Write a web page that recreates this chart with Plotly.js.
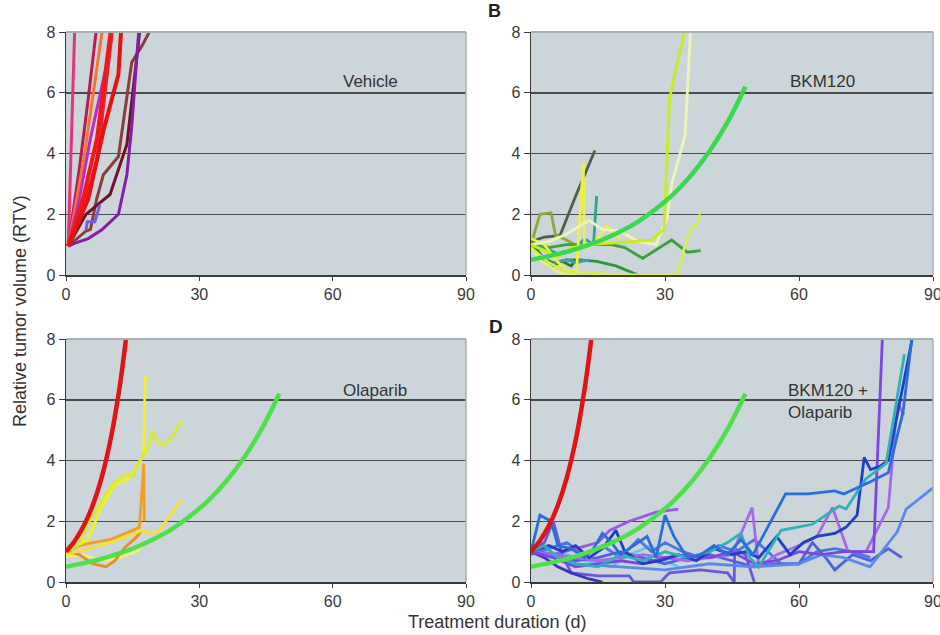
<!DOCTYPE html>
<html><head><meta charset="utf-8">
<script src="https://cdn.plot.ly/plotly-3.0.1.min.js"></script>
<style>html,body{margin:0;padding:0;background:#fff}#chart{width:940px;height:635px}</style>
</head><body><div id="chart"></div>
<script>
// ---------- DATA (day, RTV) ----------
const xTicks = [0, 30, 60, 90];
const yTicks = [0, 2, 4, 6, 8];
const panelNames = ["Vehicle", "BKM120", "Olaparib", "BKM120 +<br>Olaparib"];

// Fitted growth curves
const fitVehicleDays = [0, 2, 4, 6, 8, 10, 12, 13.5, 14.5];
const fitVehicleRTV  = [1, 1.36, 1.85, 2.52, 3.43, 4.67, 6.35, 8, 9.3];
const fitBkmDays = [0, 4, 8, 12, 16, 20, 24, 28, 32, 36, 40, 44, 48];
const fitBkmRTV  = [0.5, 0.62, 0.76, 0.94, 1.16, 1.43, 1.76, 2.18, 2.68, 3.31, 4.08, 5.03, 6.2];

// Panel A: Vehicle
const vehA1 = [[0.5,0.95],[2.0,8.3]];
const vehA2 = [[0.5,0.95],[3,3.5],[5,5.8],[7,8.3]];
const vehA3 = [[0.5,0.95],[4,3.8],[8.4,8.3]];
const vehA4 = [[0.5,0.95],[4,2.6],[7,4.5],[10.3,8.3]];
const vehA5 = [[0.5,0.95],[5,2.5],[8.5,4.8],[11.8,6.6],[12.5,8.3]];
const vehA6 = [[0.5,0.95],[3.5,2.0],[7,3.8],[10.6,8.3]];
const vehA7 = [[0.5,0.95],[3,2.5],[5.5,4.5],[8.8,6.7]];
const vehA8 = [[4.5,1.5],[4.8,1.75],[6.5,1.75],[7.6,2.3]];
const vehA9 = [[0.5,0.95],[4.5,1.45],[5.5,1.5],[6.9,2.5],[8.4,3.3],[11.8,3.9],[14.8,7.0],[17.3,7.6],[19.8,8.3]];
const vehA10 = [[0.5,0.95],[4.5,2.0],[7,2.3],[9.9,2.65],[13.7,4.3],[15.5,6.5],[16.8,8.3]];
const vehA11 = [[0.5,0.95],[2,1.05],[5,1.2],[8,1.48],[11.8,2.0],[13.7,3.3],[14.8,4.9],[15.5,6.5],[16.5,8.3]];

// Panel B: BKM120
const bkmB1 = [[0,1.1],[3,1.25],[6.5,1.3],[10,2.6],[14.3,4.1]];
const bkmB2 = [[0,1.0],[2,2.0],[4.5,2.05],[5.5,1.3],[8,1.15],[11,0.9]];
const bkmB3 = [[0,1.0],[3,0.8],[6,0.6],[9,0.9],[13,1.0],[18,1.05],[23,1.1],[27,1.15],[29.8,1.5],[31,5.8],[34.8,8.3]];
const bkmB4 = [[0,1.0],[4,1.1],[8,1.35],[13,1.8],[16,1.5],[20,1.45],[24,1.1],[28,1.0],[30.5,1.9],[31.5,3.0],[34.5,4.6],[35.8,8.3]];
const bkmB5 = [[0,0.9],[4,0.4],[8,0.1],[14,0.05],[20,0.0],[25,0.0],[32.8,0.0],[34.5,1.0],[36,1.55],[37.3,1.7],[37.8,2.0]];
const bkmB6 = [[0,1.0],[3,0.9],[6,0.7],[10,0.9],[12,1.2],[14,1.0],[14.7,2.6]];
const bkmB7 = [[0,1.1],[4,0.9],[8,1.0],[13,1.0],[18,1.0],[21,0.9],[25,0.55],[31.5,1.15],[35,0.75],[38,0.8]];
const bkmB8 = [[0,1.0],[2,0.6],[5,0.4],[8,0.5],[11,0.5],[14.7,0.45],[19,0.3],[24,0.0]];
const bkmB9 = [[0,1.2],[3,1.0],[5,0.6],[8,0.1],[10.2,0.15],[11.7,3.7],[12,0.9],[14,1.0],[17,1.6],[20,1.2]];
const bkmB10 = [[0,0.9],[2,0.5],[4,0.3],[6,0.1],[8,0.0],[10,0.0]];
const bkmB11 = [[5,0.4],[8,0.5],[10,0.4],[13,0.5]];
const bkmB12 = [[1,0.9],[3,0.5],[5,0.3],[7,0.45],[9,0.3],[10,0.5]];

// Panel C: Olaparib
const olaC1 = [[0,1.0],[3,1.3],[6,2.2],[9,2.9],[11,3.3],[13,3.5],[15,3.5],[17,4.1],[18.5,4.4],[19.5,5.0],[20.5,4.6],[22,4.5],[24,4.8],[26,5.3]];
const olaC2 = [[0,1.0],[5,1.4],[8,2.5],[11,3.2],[14,3.4],[16,3.8],[17.5,4.2],[17.8,6.8]];
const olaC3 = [[0,1.0],[3,1.2],[6,1.3],[10,1.4],[15,1.7],[16.5,1.8],[17.5,3.9],[17.6,2.0]];
const olaC4 = [[0,1.0],[3,0.9],[6,0.6],[9,0.5],[11,0.7],[13,1.1],[16,1.5],[17,1.7]];
const olaC5 = [[0,0.9],[5,1.1],[10,1.3],[14,1.5],[17,1.7],[19,1.6],[21,1.7],[22,1.9],[24,2.3],[26,2.7]];
const olaC6 = [[0,0.85],[4,0.9],[8,0.7],[12,0.8],[16,1.0],[17,1.2]];

// Panel D: BKM120 + Olaparib
const comD1 = [[0,1.0],[2,2.2],[4.5,2.0],[6,1.2],[9,1.1],[12,0.8],[14,1.1],[16,1.6],[18,1.3],[20,0.9],[23,1.2],[26,1.5],[28,0.8],[30,2.2],[32,1.5],[35,0.8],[38,0.9],[41,1.2],[44,0.9],[47,1.4],[49.7,0.9],[53,1.8],[57,2.9],[62,2.9],[68,3.0],[70,2.9],[76,3.3],[80,3.6],[83.3,5.6],[85.5,8.3]];
const comD2 = [[0,1.0],[3,1.2],[6,0.8],[10,0.6],[15,0.5],[20,0.9],[25,0.7],[30,1.0],[35,0.8],[40,1.0],[44,1.3],[47,1.6],[49,0.8],[51,0.5],[56,1.7],[63,1.9],[69,2.5],[70.5,2.4],[75,3.4],[79.5,3.9],[83.6,7.5]];
const comD3 = [[0,1.0],[4,1.2],[7,1.0],[10,1.2],[13,0.8],[16,1.1],[19,1.7],[21,1.0],[25,0.6],[29,0.7],[33,0.9],[37,0.7],[41,1.1],[45,0.9],[48,1.0],[51,0.8],[55,1.5],[58,0.9],[61,1.3],[64,1.5],[68,1.6],[70.5,1.8],[73,2.2],[74.6,4.1],[76,3.7],[78,3.8],[80,4.0],[86,8.5]];
const comD4 = [[0,1.0],[5,0.8],[10,0.5],[15,0.6],[20,0.7],[25,0.6],[30,0.8],[35,0.9],[40,0.8],[45,1.0],[50,0.6],[55,0.7],[60,1.0],[65,0.9],[70,1.0],[76.7,1.0],[78.8,8.5]];
const comD5 = [[0,1.0],[5,0.9],[10,0.8],[15,0.7],[20,0.8],[25,0.9],[30,0.8],[35,0.7],[40,0.8],[45,0.9],[49.5,2.45],[51,0.5],[55,0.9],[60,1.2],[64,1.5],[67.5,2.45],[71,1.0],[75,1.0],[80,2.45],[82,5.9],[83.5,5.5]];
const comD6 = [[0,1.0],[5,0.9],[10,1.1],[15,1.3],[17.6,1.7],[22,2.0],[28,2.3],[33,2.4]];
const comD7 = [[0,1.0],[5,0.8],[10,0.6],[20,0.5],[30,0.4],[40,0.6],[50,0.5],[60,0.6],[65,0.9],[70,0.8],[75.9,0.5],[82,1.65],[84,2.4],[90,3.1]];
const comD8 = [[0,1.0],[3,0.8],[6,0.5],[9,0.3],[13,0.1],[16,0.0]];
const comD9 = [[0,1.0],[3,1.3],[5,2.0],[7,0.9],[9,0.3],[15,0.2],[22,0.2],[23,0.0],[29,0.0],[31,0.3],[38,0.4],[44,0.3],[45.5,0.0],[45.6,1.1],[48,0.9],[50,0.0]];
const comD10 = [[0,1.0],[5,0.9],[10,0.7],[15,0.8],[20,1.0],[25,0.8],[30,0.6],[35,0.8],[40,0.9],[45,0.7],[50,0.5],[55,0.6],[60,0.6],[63,1.3],[66,0.8],[68,0.4],[72,0.9],[76,0.7],[80,1.1],[83,0.8]];
const comD11 = [[0,0.9],[4,1.1],[8,1.3],[12,0.9],[16,1.2],[20,0.8],[24,1.4],[27,1.0],[30,1.3],[34,1.0],[38,0.8],[42,1.2],[46,1.0],[50,1.4],[53,1.0],[56,0.6],[60,0.6],[64,1.0],[68,1.1],[72,1.0],[76,0.8]];
const comD12 = [[0,1.1],[3,1.0],[8,0.9],[12,0.7],[18,0.5],[22,0.9],[27,1.2],[30,0.7],[33,0.5]];

// ---------- STYLE ----------
const vehSeries = [vehA1,vehA2,vehA3,vehA9,vehA10,vehA11,vehA7,vehA8,vehA6,vehA4,vehA5];
const vehColors = ['#e5337f','#b81c50','#f07830','#8c3c3c','#6e1428','#8a1aa8','#c02ac8','#7060e0','#f02424','#ee1a1a','#e81010'];
const vehWidths = [3,3,3,3,3,3,3,3,3.5,4,4];
const bkmSeries = [bkmB1,bkmB2,bkmB7,bkmB8,bkmB12,bkmB11,bkmB6,bkmB10,bkmB9,bkmB5,bkmB4,bkmB3];
const bkmColors = ['#4a604a','#8ea83a','#3aa040','#28983a','#2a7a30','#3aa0b8','#2aa888','#e2f088','#eef040','#d6ee50','#eef4b8','#c8ec1c'];
const olaSeries = [olaC6,olaC4,olaC3,olaC5,olaC2,olaC1];
const olaColors = ['#f6ee70','#ea8c1e','#f0a020','#f8e030','#f4f020','#d8ec28'];
const comSeries = [comD12,comD11,comD10,comD9,comD8,comD7,comD6,comD5,comD4,comD3,comD2,comD1];
const comColors = ['#64c8d8','#4878e0','#5060e0','#6a58d8','#3a34c0','#5a8ae8','#9a58e8','#a868ec','#7a48e0','#1f3fc8','#30b0b8','#2a6ed8'];

const traces = [];
function addSeries(list, colors, widths, xa, ya) {
  list.forEach((s, i) => {
    traces.push({
      type: 'scatter', mode: 'lines', xaxis: xa, yaxis: ya,
      x: s.map(p => p[0]), y: s.map(p => p[1]),
      line: {color: colors[i], width: widths ? widths[i] : 2.8},
      hoverinfo: 'skip', showlegend: false
    });
  });
}
function addFit(days, vals, color, xa, ya) {
  traces.push({type:'scatter', mode:'lines', xaxis:xa, yaxis:ya, x:days, y:vals,
    line:{color:color, width:4.5, shape:'spline'}, hoverinfo:'skip', showlegend:false});
}
addSeries(vehSeries, vehColors, vehWidths, 'x', 'y');
addSeries(bkmSeries, bkmColors, null, 'x2', 'y2');
addFit(fitBkmDays, fitBkmRTV, '#3ad84e', 'x2', 'y2');
addSeries(olaSeries, olaColors, null, 'x3', 'y3');
addFit(fitVehicleDays, fitVehicleRTV, '#e01414', 'x3', 'y3');
addFit(fitBkmDays, fitBkmRTV, '#4ee04a', 'x3', 'y3');
addSeries(comSeries, comColors, null, 'x4', 'y4');
addFit(fitVehicleDays, fitVehicleRTV, '#e01414', 'x4', 'y4');
addFit(fitBkmDays, fitBkmRTV, '#4ee04a', 'x4', 'y4');

const W = 940, H = 635;
const colL = [66/W, 466/W], colR = [531/W, 933/W];
const rowT = [1-275/H, 1-32/H], rowB = [1-582/H, 1-339/H];
const tickFont = {family:'Liberation Sans, Arial, sans-serif', size:16, color:'#3a3a3a'};
function xaxis(dom, anchor){ return {domain:dom, anchor:anchor, range:[0,90], tickvals:xTicks, showgrid:false, zeroline:false,
  showline:true, linecolor:'#3a3a3a', linewidth:1.5, ticks:'outside', ticklen:4, tickcolor:'#3a3a3a', tickfont:tickFont,
  ticklabeloverflow:'allow', fixedrange:true}; }
function yaxis(dom, anchor){ return {domain:dom, anchor:anchor, range:[0,8], tickvals:yTicks, showgrid:true, gridcolor:'#4a4a4a', gridwidth:1.5,
  zeroline:false, showline:true, linecolor:'#3a3a3a', linewidth:1.5, ticks:'outside', ticklen:6, tickcolor:'#3a3a3a', tickfont:tickFont,
  ticklabeloverflow:'allow', fixedrange:true}; }

const border = (xr, yr) => ([
  {type:'line', xref:xr+' domain', yref:yr+' domain', x0:0, x1:1, y0:1, y1:1, line:{color:'#a8b0b4', width:2}, layer:'above'},
  {type:'line', xref:xr+' domain', yref:yr+' domain', x0:1, x1:1, y0:0, y1:1, line:{color:'#a8b0b4', width:1.5}, layer:'above'}
]);

const ff = 'Liberation Sans, Arial, sans-serif';
const annFont = {family:ff, size:17, color:'#333'};
function ann(px, py, text, font, extra) {
  return Object.assign({xref:'paper', yref:'paper', x:px/W, y:1-py/H, text:text, showarrow:false,
    xanchor:'center', yanchor:'middle', font:font}, extra || {});
}
const layout = {
  width: W, height: H, margin:{l:0,r:0,t:0,b:0},
  paper_bgcolor:'#ffffff', plot_bgcolor:'#ccd5d9', showlegend:false,
  xaxis: xaxis(colL,'y'), yaxis: yaxis(rowT,'x'),
  xaxis2: xaxis(colR,'y2'), yaxis2: yaxis(rowT,'x2'),
  xaxis3: xaxis(colL,'y3'), yaxis3: yaxis(rowB,'x3'),
  xaxis4: xaxis(colR,'y4'), yaxis4: yaxis(rowB,'x4'),
  shapes: [].concat(border('x','y'), border('x2','y2'), border('x3','y3'), border('x4','y4')),
  annotations: [
    ann(370, 82, panelNames[0], annFont),
    ann(822, 82, panelNames[1], annFont),
    ann(375, 390, panelNames[2], annFont),
    ann(786, 379, panelNames[3], annFont, {xanchor:'left', yanchor:'top', align:'left'}),
    ann(495, 11, '<b>B</b>', {family:ff, size:18, color:'#222'}),
    ann(496, 326, '<b>D</b>', {family:ff, size:19, color:'#222'}),
    ann(20, 311, 'Relative tumor volume (RTV)', {family:ff, size:18, color:'#333'}, {textangle:-90}),
    ann(497, 622, 'Treatment duration (d)', {family:ff, size:18, color:'#333'})
  ]
};
Plotly.newPlot('chart', traces, layout, {staticPlot:true, displayModeBar:false});
</script></body></html>
